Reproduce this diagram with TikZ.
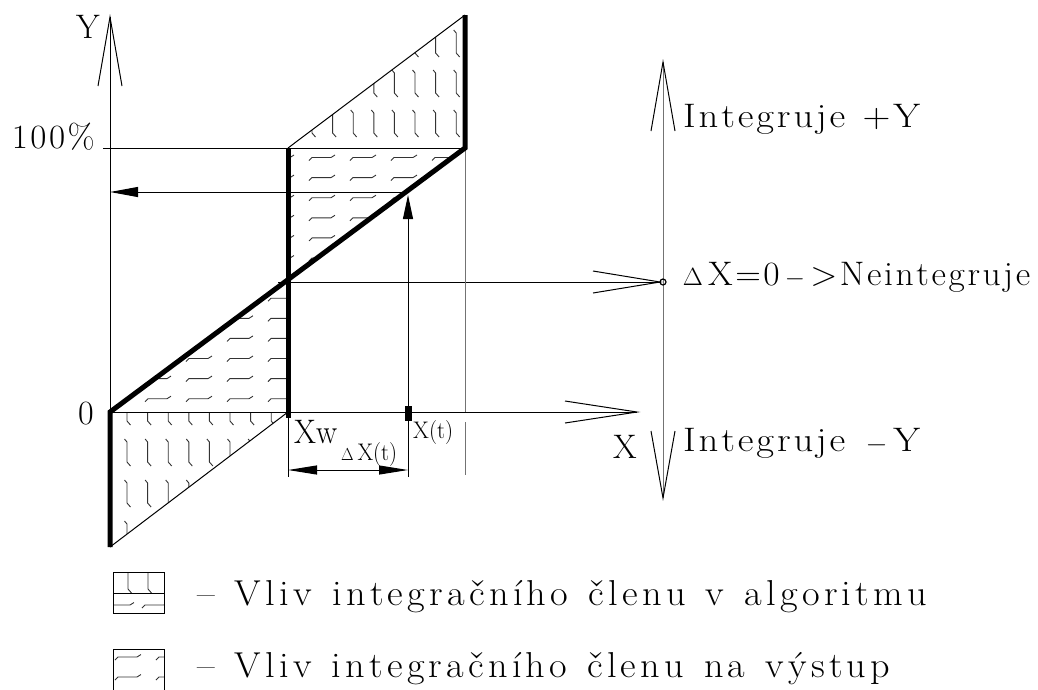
\documentclass[tikz,border=0pt]{standalone}
\usepackage{fontspec}
\usepackage{graphicx}
\usetikzlibrary{arrows.meta}
\newcommand\fitw[2]{\resizebox{#1pt}{\height}{#2}}
\def\lsk{2.5pt}
\def\ls#1{\lsA#1\relax\unkern}
\def\lsA#1{\ifx\relax#1\else#1\kern\lsk\expandafter\lsA\fi}
\newcommand\vst[2]{\draw[hatchl] (#1-2.5,#2) -- (#1,#2+3) -- (#1,#2+23) -- (#1+3.5,#2+27);}
\newcommand\hst[2]{\draw[hatchl] (#1,#2+3) -- (#1+3,#2) -- (#1+22,#2) -- (#1+26,#2-2.5);}
\begin{document}
\begin{tikzpicture}[x=1pt,y=-1pt,
  thinl/.style={line width=1pt},
  fat/.style={line width=5pt},
  hatchl/.style={line width=0.9pt,black!80},
  grayl/.style={line width=1pt,black!55},
  big/.style={inner sep=0pt,font=\fontsize{34}{38}\selectfont},
  leg/.style={inner sep=0pt,font=\fontsize{36}{40}\selectfont\def\lsk{4pt}},
  small/.style={inner sep=0pt,font=\fontsize{24}{28}\selectfont},
  tipup/.style={-{Triangle[length=24pt,width=10pt]}},
  tipleft/.style={-{Triangle[length=28pt,width=10pt]}},
  dimarrow/.style={{Triangle[length=29pt,width=9pt]}-{Triangle[length=29pt,width=9pt]}}
]
\useasboundingbox (0,0) rectangle (1038,689);
% key points
\coordinate (O) at (110,412);
\coordinate (Ytip) at (110,17);
\coordinate (Xtip) at (637,412);
\coordinate (W) at (288,412);
\coordinate (WT) at (288,148);
\coordinate (Wlow) at (288,418);
\coordinate (M) at (288,282);
\coordinate (P) at (465,148);
\coordinate (T) at (465,15);
\coordinate (B) at (110,547);
\coordinate (A) at (408,192);
\coordinate (At) at (408,195);
\coordinate (YA) at (110,192);
\coordinate (Xt) at (408,412);
\coordinate (R) at (663,282);
\coordinate (Rtop) at (663,62);
\coordinate (Rbot) at (663,498);

% hatching: vertical strokes
\begin{scope}
\clip (WT) -- (T) -- (P) -- cycle;
\foreach \k in {0,...,7}{\foreach \r in {30,70,110}{\pgfmathsetmacro\xx{312+20.6*\k}\vst{\xx}{\r}}}
\end{scope}
\begin{scope}
\clip (O) -- (W) -- (B) -- cycle;
\foreach \k in {-1,...,8}{\foreach \r in {398,439,480,521}{\pgfmathsetmacro\xx{127+20.6*\k}\vst{\xx}{\r}}}
\end{scope}
% hatching: horizontal strokes
\begin{scope}
\clip (WT) -- (P) -- (M) -- cycle;
\foreach \k in {-4,...,4}{\foreach \j in {0,...,12}{\pgfmathsetmacro\xx{268+41*\k}\pgfmathsetmacro\yy{157.5+20.1*\j}\hst{\xx}{\yy}}}
\end{scope}
\begin{scope}
\clip (O) -- (M) -- (W) -- cycle;
\foreach \k in {-4,...,4}{\foreach \j in {0,...,12}{\pgfmathsetmacro\xx{268+41*\k}\pgfmathsetmacro\yy{157.5+20.1*\j}\hst{\xx}{\yy}}}
\end{scope}

% axes
\draw[thinl] (Ytip) -- (O);
\draw[thinl] (98,86) -- (Ytip) -- (122,86);
\draw[thinl] (O) -- (Xtip);
\draw[thinl] (565,401) -- (Xtip) -- (565,423);
\draw[thinl] (103,148) -- (P);
\draw[thinl] (278,282) -- (660,282);
\draw[thinl] (593,271) -- (660,282) -- (593,293);
\draw[grayl] (Rtop) -- (Rbot);
\draw[thinl] (651,131) -- (Rtop) -- (675,131);
\draw[thinl] (651,431) -- (Rbot) -- (675,431);
\draw[line width=1.2pt] (R) circle (3);

% thin helper lines
\draw[thinl] (WT) -- (T);
\draw[thinl] (B) -- (W);
\draw[grayl] (P) -- (465,412);
\draw[grayl] (465,422) -- (465,475);
\draw[thinl] (Wlow) -- (288,477);
\draw[thinl,tipup] (408,477) -- (At);
\draw[thinl,tipleft] (A) -- (YA);
\draw[thinl,dimarrow] (288,470) -- (408,470);
\fill (404.5,406) rectangle (411.5,421);

% thick characteristic
\draw[fat,line join=miter] (B) -- (O) -- (P) -- (T);
\draw[fat] (WT) -- (Wlow);

% labels
\node[big] (ly) at (88,27) {Y};
\node[big,anchor=base east] (l100) at (95,148) {\fitw{83}{\ls{100\%}}};
\node[big] (l0) at (86,414) {0};
\node[big,anchor=base west] (lxw) at (294,443) {\fitw{43}{Xw}};
\node[small,anchor=base west] (ldx) at (341,460) {\fitw{56}{{\fontsize{17}{20}\selectfont$\Delta$}\,X(t)}};
\node[small,anchor=base west] (lxt) at (413,438) {\fitw{40}{X(t)}};
\node[big,anchor=base west] (lx) at (613,458) {X};
\node[big,anchor=base west] (lpy) at (683,127) {\fitw{237}{\ls{Integruje~+Y}}};
\node[big,anchor=base west] (lnei) at (680,285) {\fitw{350}{\ls{$\Delta$X=0$-$>Neintegruje}}};
\node[big,anchor=base west] (lmy) at (683,451) {\fitw{237}{\ls{Integruje~$-$Y}}};

% legend
\begin{scope}
\clip (113,572) rectangle (164,613);
\vst{128}{566}\vst{148}{566}
\hst{108}{605}\hst{142}{605}
\end{scope}
\draw[thinl] (113,572) rectangle (164,613);
\draw[thinl] (113,593) -- (164,593);
\begin{scope}
\clip (113,649) rectangle (164,689);
\hst{115}{657}\hst{156}{657}\hst{115}{677}\hst{156}{677}
\end{scope}
\draw[thinl] (113,700) -- (113,649) -- (164,649) -- (164,700);
\node[leg,anchor=base west] (leg1) at (197,605) {\fitw{730}{\ls{–~Vliv~integračního~členu~v~algoritmu}}};
\node[leg,anchor=base west] (leg2) at (197,677) {\fitw{693}{\ls{–~Vliv~integračního~členu~na~výstup}}};
\end{tikzpicture}
\end{document}
